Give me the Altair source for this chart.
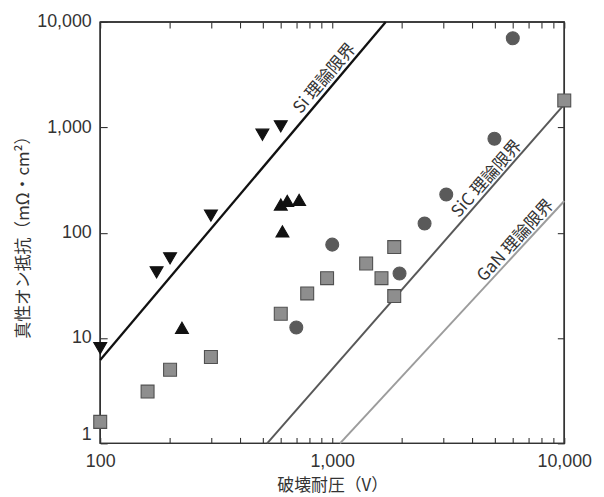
import altair as alt
import pandas as pd

# ---- data ----
series_order = ["Si MOSFET", "SJ Si MOSFET", "SiC", "GaN"]

si_mosfet_v = [100, 175, 200, 300, 500, 600]
si_mosfet_r = [8, 42, 57, 145, 850, 1020]

sj_si_v = [225, 600, 640, 720, 610]
sj_si_r = [12.5, 185, 200, 205, 103]

sic_v = [700, 1000, 1950, 2500, 3100, 5000, 6000]
sic_r = [12.6, 77, 41, 122, 230, 780, 7000]

gan_v = [100, 160, 200, 300, 600, 780, 950, 1400, 1630, 1850, 1850, 10000]
gan_r = [1.6, 3.1, 5, 6.6, 17, 26.5, 37, 51, 37, 73, 25, 1800]

# theoretical limit lines (end points)
si_limit_v = [100, 1700]
si_limit_r = [6.2, 10000]
sic_limit_v = [524, 10000]
sic_limit_r = [1, 1650]
gan_limit_v = [1080, 10000]
gan_limit_r = [1, 200]

# limit labels
limit_labels = ["Si 理論限界", "SiC 理論限界", "GaN 理論限界"]
limit_label_v = [930, 4645, 6180]
limit_label_r = [2900, 323, 84]

# axis ticks / labels
x_domain = [100, 10000]
y_domain = [1, 10000]
x_ticks = [100, 200, 300, 400, 500, 600, 700, 800, 900, 1000,
           2000, 3000, 4000, 5000, 6000, 7000, 8000, 9000, 10000]
y_ticks = [1, 10, 100, 1000, 10000]

# ---- build tables ----
rows = []
for name, vs, rs in [("Si MOSFET", si_mosfet_v, si_mosfet_r),
                     ("SJ Si MOSFET", sj_si_v, sj_si_r),
                     ("SiC", sic_v, sic_r),
                     ("GaN", gan_v, gan_r)]:
    for v, r in zip(vs, rs):
        rows.append({"series": name, "v": v, "r": r})
pts = pd.DataFrame(rows)

W, H = 468, 425
TXT = "#333333"
FONT = "Liberation Sans, Noto Sans CJK JP, sans-serif"
JFONT = "Noto Sans CJK JP, sans-serif"
TLX, TLY = 6, 7

xscale = alt.Scale(type="log", domain=x_domain, nice=False)
yscale = alt.Scale(type="log", domain=y_domain, nice=False)

x_label_expr = "indexof([100, 1000, 10000], datum.value) >= 0 ? format(datum.value, ',') : ''"

# inward ticks: outward ticks on axes moved inside by a negative offset
x_bottom = alt.Axis(orient="bottom", values=x_ticks, labelExpr=x_label_expr,
                    ticks=True, tickSize=TLX, offset=-TLX, domain=False,
                    tickColor=TXT, tickWidth=1.1,
                    labelPadding=9, labelFlush=False, title="破壊耐圧（V）",
                    titleX=W / 2, titleY=43 + TLX,
                    titleBaseline="middle", titleAlign="center")
x_top = alt.Axis(orient="top", values=x_ticks, labels=False, title=None,
                 ticks=True, tickSize=TLX, offset=-TLX, domain=False,
                 tickColor=TXT, tickWidth=1.1)
y_left = alt.Axis(orient="left", values=y_ticks, format=",",
                  ticks=True, tickSize=TLY, offset=-TLY, domain=False,
                  tickColor=TXT, tickWidth=1.1,
                  labelPadding=9, labelFlush=False,
                  labelBaseline={"condition": {"test": "datum.value == 1", "value": "bottom"},
                                 "value": "middle"},
                  title="真性オン抵抗（mΩ・cm²）",
                  titleX=-77 - TLY, titleY=H / 2, titleAngle=270,
                  titleBaseline="middle", titleAlign="center")
y_right = alt.Axis(orient="right", values=y_ticks, labels=False, title=None,
                   ticks=True, tickSize=TLY, offset=-TLY, domain=False,
                   tickColor=TXT, tickWidth=1.1)

layers = []

# frame: four edges as rules through the scales
edges = pd.DataFrame({
    "x": [x_domain[0], x_domain[0], x_domain[0], x_domain[1]],
    "x2": [x_domain[1], x_domain[1], x_domain[0], x_domain[1]],
    "y": [y_domain[0], y_domain[1], y_domain[0], y_domain[0]],
    "y2": [y_domain[0], y_domain[1], y_domain[1], y_domain[1]],
})
layers.append(alt.Chart(edges).mark_rule(color=TXT, strokeWidth=1.5).encode(
    x=alt.X("x:Q", scale=xscale, axis=x_bottom),
    x2="x2:Q",
    y=alt.Y("y:Q", scale=yscale, axis=y_left),
    y2="y2:Q",
))

# limit lines
line_specs = [(si_limit_v, si_limit_r, "#111111", 2.3),
              (sic_limit_v, sic_limit_r, "#585858", 2.0),
              (gan_limit_v, gan_limit_r, "#9c9c9c", 2.0)]
for i, (vs, rs, col, sw) in enumerate(line_specs):
    d = pd.DataFrame({"v": vs, "r": rs})
    layers.append(
        alt.Chart(d).mark_line(color=col, strokeWidth=sw).encode(
            x=alt.X("v:Q", scale=xscale, axis=x_top if i == 0 else None),
            y=alt.Y("r:Q", scale=yscale, axis=y_right if i == 0 else None),
        )
    )

# limit labels
for lab, v, r, ang in zip(limit_labels, limit_label_v, limit_label_r, [310.5, 311.5, 312.5]):
    d = pd.DataFrame({"label": [lab], "v": [v], "r": [r]})
    layers.append(
        alt.Chart(d).mark_text(angle=ang, fontSize=17, font=JFONT, color=TXT,
                               align="center", baseline="middle").encode(
            x=alt.X("v:Q", scale=xscale, axis=None),
            y=alt.Y("r:Q", scale=yscale, axis=None),
            text="label:N",
        )
    )

# data points with legend inside the top-left of the plot
leg = alt.Legend(orient="none", legendX=13, legendY=16, title=None, padding=0,
                 labelFont=FONT, labelFontSize=18, labelColor=TXT, labelOffset=7,
                 symbolSize=150, symbolStrokeWidth=1, rowPadding=15)
layers.append(
    alt.Chart(pts).mark_point(filled=True, opacity=1, strokeWidth=1.1).encode(
        x=alt.X("v:Q", scale=xscale, axis=None),
        y=alt.Y("r:Q", scale=yscale, axis=None),
        shape=alt.Shape("series:N", legend=leg,
                        scale=alt.Scale(domain=series_order,
                                        range=["triangle-down", "triangle-up", "circle", "square"])),
        fill=alt.Fill("series:N", legend=leg,
                      scale=alt.Scale(domain=series_order,
                                      range=["#111111", "#111111", "#5a5a5a", "#8e8e8e"])),
        stroke=alt.Stroke("series:N", legend=leg,
                          scale=alt.Scale(domain=series_order,
                                          range=["#111111", "#111111", "#5a5a5a", "#505050"])),
        size=alt.Size("series:N", legend=None,
                      scale=alt.Scale(domain=series_order, range=[170, 170, 135, 200])),
    )
)

chart = alt.layer(*layers).resolve_axis(
    x="independent", y="independent"
).properties(
    width=W, height=H,
    padding={"left": 93, "top": 12, "right": 32, "bottom": 52},
    autosize=alt.AutoSizeParams(type="none"),
).configure_view(
    stroke=TXT, strokeWidth=1.5
).configure_axis(
    grid=False,
    labelFont=FONT, labelFontSize=18, labelColor=TXT,
    titleFont=JFONT, titleFontSize=17, titleColor=TXT, titleFontWeight="normal",
)

chart.save("out.html", embed_options={"renderer": "svg", "actions": False})
